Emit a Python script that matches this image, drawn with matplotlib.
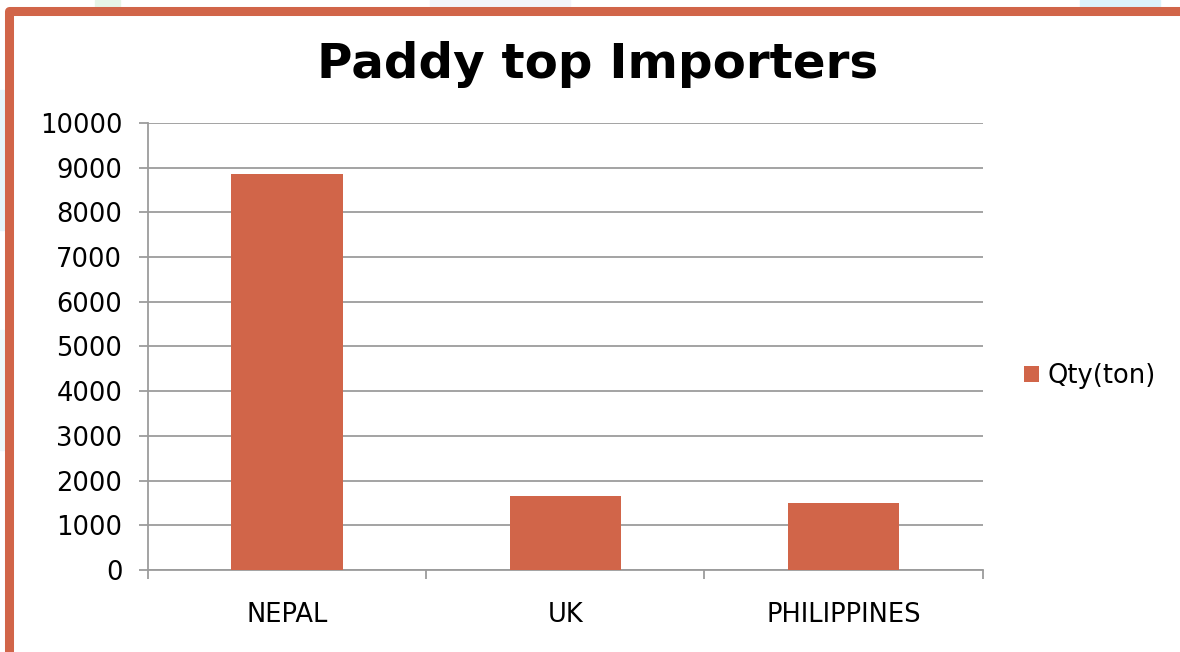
import matplotlib.pyplot as plt
import matplotlib.patches as mpatches
import numpy as np

plt.rc("font", family="DejaVu Sans")

countries = ["NEPAL", "UK", "PHILIPPINES"]
qty = [8850, 1655, 1500]
series_name = "Qty(ton)"
title = "Paddy top Importers"

bar_color = "#D16549"
grid_color = "#9C9C9C"

W, H = 1180, 652
fig = plt.figure(figsize=(W / 100, H / 100), dpi=100)
fig.patch.set_facecolor("white")

# faint background bits outside the frame
for x0, y0, w, h, c in [(95, 0, 25, 7, "#e6f5e8"), (430, 0, 140, 6, "#f3f4fa"),
                        (1080, 0, 80, 7, "#dcf3fb"), (0, 90, 4, 140, "#e6f4fa"),
                        (0, 330, 4, 120, "#eef7fa")]:
    fig.patches.append(mpatches.Rectangle((x0 / W, 1 - (y0 + h) / H), w / W, h / H,
                                          transform=fig.transFigure, color=c, zorder=0))

# orange frame, cropped at right and bottom
fig.patches.append(mpatches.Rectangle((8.5 / W, -0.1), 1.2, 1.1 - 11 / H,
                                      transform=fig.transFigure, fill=False,
                                      edgecolor=bar_color, linewidth=6.5,
                                      joinstyle="round", zorder=1))

ax = fig.add_axes([148 / W, 1 - 570 / H, (982.7 - 148) / W, (570 - 123) / H])
x = np.arange(len(countries))
ax.bar(x, qty, width=0.4, color=bar_color, label=series_name, zorder=3)

ax.set_xlim(-0.5, len(countries) - 0.5)
ax.set_ylim(0, 10000)
ax.set_yticks(np.arange(0, 10001, 1000))
ax.yaxis.grid(True, color=grid_color, linewidth=1.3, zorder=1)

ax.set_xticks(x)
ax.set_xticklabels(countries)
ax.set_xticks(np.arange(-0.5, len(countries)), minor=True)
ax.tick_params(axis="x", which="major", length=0, pad=23, labelsize=18.5)
ax.tick_params(axis="x", which="minor", length=6.5, width=1.3, color=grid_color)
ax.tick_params(axis="y", length=6.5, width=1.3, color=grid_color, pad=12, labelsize=18.5)

for s in ["top", "right"]:
    ax.spines[s].set_visible(False)
for s in ["left", "bottom"]:
    ax.spines[s].set_color(grid_color)
    ax.spines[s].set_linewidth(1.3)

fig.text(598 / W, 1 - 65 / H, title, ha="center", va="center",
         fontsize=34.8, fontweight="bold")

ax.legend(loc="center left", bbox_to_anchor=(1024 / W, 1 - 376 / H),
          bbox_transform=fig.transFigure, frameon=False, fontsize=18.5,
          handlelength=0.6, handleheight=0.6, handletextpad=0.3, borderpad=0,
          borderaxespad=0)

fig.savefig("out.png", dpi=100)
